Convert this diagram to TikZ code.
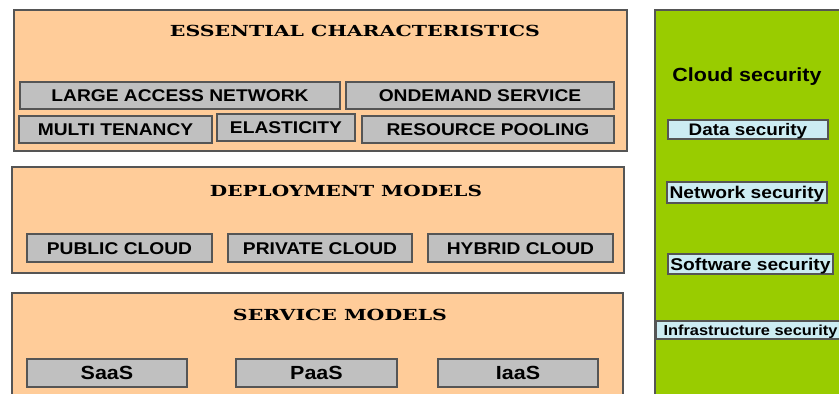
\documentclass[tikz,border=0pt]{standalone}
\usepackage{fontspec}
\usepackage{graphicx}
\newfontfamily\lab[FakeStretch=1.13]{Liberation Sans}
\newfontfamily\ttlfont{DejaVu Serif}
\definecolor{peach}{HTML}{FFCC99}
\definecolor{itemgray}{HTML}{C0C0C0}
\definecolor{secgreen}{HTML}{99CC00}
\definecolor{seclight}{HTML}{CCECF2}
\definecolor{edge}{HTML}{555555}
\begin{document}
\begin{tikzpicture}[x=1pt,y=-1pt,
  panel/.style={draw=edge, line width=1.2pt, fill=peach, inner sep=0pt},
  greenpanel/.style={draw=edge, line width=1.2pt, fill=secgreen, inner sep=0pt},
  item/.style={draw=edge, line width=1.3pt, fill=itemgray, inner sep=0pt,
    font=\lab\bfseries\fontsize{17}{17}\selectfont, text height=12.2pt, text depth=0pt},
  bigitem/.style={item, font=\lab\bfseries\fontsize{19}{19}\selectfont, text height=13.6pt},
  secitem/.style={draw=edge, line width=1.2pt, fill=seclight, inner sep=0pt,
    font=\lab\bfseries\fontsize{17}{17}\selectfont, text height=12.2pt, text depth=0pt},
  title/.style={inner sep=0pt, font=\ttlfont\bfseries\fontsize{16}{16}\selectfont, text height=11.3pt, text depth=0pt},
  sectitle/.style={inner sep=0pt, font=\lab\bfseries\fontsize{19}{19}\selectfont, text height=13.6pt, text depth=0pt}]
\useasboundingbox (0,0) rectangle (839,394);
\clip (0,0) rectangle (839,394);
\fill[white] (0,0) rectangle (839,394);

% panels
\node[panel, minimum width=613pt, minimum height=141pt] (ess) at (320.5,80.5) {};
\node[panel, minimum width=612pt, minimum height=106pt] (dep) at (318,220) {};
\node[panel, minimum width=611pt, minimum height=107pt] (svc) at (317.5,346.5) {};
\node[greenpanel, minimum width=190pt, minimum height=390pt] (sec) at (750,205) {};

% titles
\node[title] (esst) at (355,30.5) {\resizebox{370pt}{11.3pt}{ESSENTIAL CHARACTERISTICS}};
\node[title] (dept) at (346,190.5) {\resizebox{272pt}{11.3pt}{DEPLOYMENT MODELS}};
\node[title] (svct) at (340,315) {\resizebox{214pt}{11.3pt}{SERVICE MODELS}};
\node[sectitle] (sect) at (747,75) {Cloud security};

% essential characteristics
\node[item, minimum width=320pt, minimum height=27pt] (lan) at (180,95.5) {LARGE ACCESS NETWORK};
\node[item, minimum width=268pt, minimum height=27pt] (ods) at (480,95.5) {ONDEMAND SERVICE};
\node[item, minimum width=193pt, minimum height=27pt] (mt) at (115.5,129.5) {MULTI TENANCY};
\node[item, minimum width=138pt, minimum height=27pt] (el) at (286,127.5) {ELASTICITY};
\node[item, minimum width=252pt, minimum height=27pt] (rp) at (488,129.5) {RESOURCE POOLING};

% deployment models
\node[item, minimum width=185pt, minimum height=28pt] (pub) at (119.5,248) {PUBLIC CLOUD};
\node[item, minimum width=184pt, minimum height=28pt] (pri) at (320,248) {PRIVATE CLOUD};
\node[item, minimum width=185pt, minimum height=28pt] (hyb) at (520.5,248) {HYBRID CLOUD};

% service models
\node[bigitem, minimum width=160pt, minimum height=28pt] (saas) at (107,373) {SaaS};
\node[bigitem, minimum width=161pt, minimum height=28pt] (paas) at (316.5,373) {PaaS};
\node[bigitem, minimum width=160pt, minimum height=28pt] (iaas) at (518,373) {IaaS};

% security
\node[secitem, minimum width=160pt, minimum height=19pt, font=\lab\bfseries\fontsize{16.7}{16.7}\selectfont, text height=11.9pt] (data) at (748,129.5) {Data security};
\node[secitem, minimum width=160pt, minimum height=21pt] (net) at (747,192.5) {Network security};
\node[secitem, minimum width=165pt, minimum height=20pt] (soft) at (750.5,264) {Software security};
\node[secitem, minimum width=189pt, minimum height=18pt, font=\lab\bfseries\fontsize{14.5}{14.5}\selectfont, text height=10.4pt] (infra) at (750.5,330) {Infrastructure security};
\end{tikzpicture}
\end{document}
